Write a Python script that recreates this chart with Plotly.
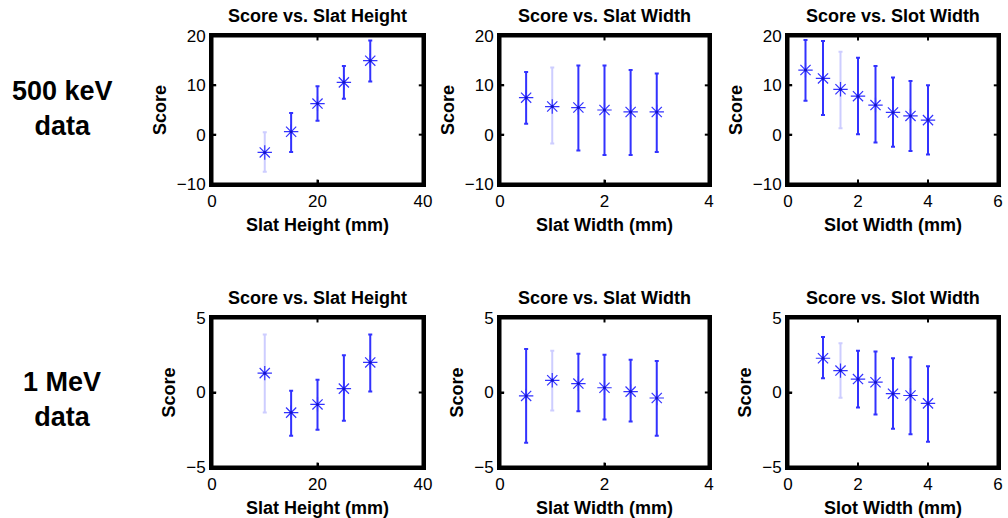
import plotly.graph_objects as go

# ---- data ----
row_labels = ["500 keV<br>data", "1 MeV<br>data"]
titles = ["Score vs. Slat Height", "Score vs. Slat Width", "Score vs. Slot Width"]
x_titles = ["Slat Height (mm)", "Slat Width (mm)", "Slot Width (mm)"]

# 500 keV
kev_height_x = [10, 15, 20, 25, 30]
kev_height_y = [-3.6, 0.6, 6.3, 10.6, 15.0]
kev_height_hi = [0.5, 4.4, 9.8, 13.9, 19.1]
kev_height_lo = [-7.5, -3.5, 2.8, 7.3, 10.8]

kev_slatw_x = [0.5, 1.0, 1.5, 2.0, 2.5, 3.0]
kev_slatw_y = [7.5, 5.7, 5.5, 5.0, 4.6, 4.6]
kev_slatw_hi = [12.7, 13.6, 14.0, 14.0, 13.1, 12.4]
kev_slatw_lo = [2.2, -1.8, -3.2, -4.1, -4.1, -3.5]

kev_slotw_x = [0.5, 1.0, 1.5, 2.0, 2.5, 3.0, 3.5, 4.0]
kev_slotw_y = [13.1, 11.4, 9.2, 7.8, 6.0, 4.5, 3.8, 2.95]
kev_slotw_hi = [19.2, 19.0, 16.8, 15.6, 13.9, 11.6, 10.9, 10.0]
kev_slotw_lo = [6.9, 4.0, 1.3, 0.1, -1.6, -2.45, -3.3, -4.0]

# 1 MeV
mev_height_x = [10, 15, 20, 25, 30]
mev_height_y = [1.3, -1.35, -0.8, 0.26, 2.02]
mev_height_hi = [3.9, 0.12, 0.86, 2.5, 3.9]
mev_height_lo = [-1.35, -2.9, -2.5, -1.9, 0.06]

mev_slatw_x = [0.5, 1.0, 1.5, 2.0, 2.5, 3.0]
mev_slatw_y = [-0.23, 0.82, 0.6, 0.32, 0.06, -0.37]
mev_slatw_hi = [2.92, 2.8, 2.6, 2.54, 2.2, 2.11]
mev_slatw_lo = [-3.37, -1.2, -1.26, -1.82, -1.94, -2.9]

mev_slotw_x = [1.0, 1.5, 2.0, 2.5, 3.0, 3.5, 4.0]
mev_slotw_y = [2.3, 1.47, 0.9, 0.69, -0.08, -0.2, -0.73]
mev_slotw_hi = [3.72, 3.3, 2.8, 2.75, 2.3, 2.37, 1.76]
mev_slotw_lo = [0.96, -0.35, -1.0, -1.47, -2.44, -2.8, -3.3]

x_ranges = [[0, 40], [0, 4], [0, 6]]
x_ticks = [[0, 20, 40], [0, 2, 4], [0, 2, 4, 6]]
y_ranges = [[-10, 20], [-5, 5]]
y_ticks = [[-10, 0, 10, 20], [-5, 0, 5]]

panels = [
    [(kev_height_x, kev_height_y, kev_height_hi, kev_height_lo, 0),
     (kev_slatw_x, kev_slatw_y, kev_slatw_hi, kev_slatw_lo, 1),
     (kev_slotw_x, kev_slotw_y, kev_slotw_hi, kev_slotw_lo, 2)],
    [(mev_height_x, mev_height_y, mev_height_hi, mev_height_lo, 0),
     (mev_slatw_x, mev_slatw_y, mev_slatw_hi, mev_slatw_lo, 1),
     (mev_slotw_x, mev_slotw_y, mev_slotw_hi, mev_slotw_lo, 1)],
]

# ---- style ----
W, H = 1008, 518
FONT = "Liberation Sans, Arial, sans-serif"
BLUE = "rgb(50,50,255)"
FADED = "rgb(205,205,255)"
x_dom_px = [(212, 423), (500, 709), (788, 998)]
y_dom_px = [(36, 184), (318, 467)]

fig = go.Figure()
layout_axes = {}

for r in range(2):
    for c in range(3):
        n = r * 3 + c + 1
        sfx = "" if n == 1 else str(n)
        xs, ys, hi, lo, faded_idx = panels[r][c]
        for i in range(len(xs)):
            col = FADED if i == faded_idx else BLUE
            fig.add_trace(go.Scatter(
                x=[xs[i]], y=[ys[i]], mode="markers",
                xaxis="x" + sfx, yaxis="y" + sfx,
                marker=dict(symbol="asterisk-open", size=12, color=BLUE,
                            line=dict(color=BLUE, width=1.2)),
                error_y=dict(type="data", symmetric=False,
                             array=[hi[i] - ys[i]], arrayminus=[ys[i] - lo[i]],
                             color=col, thickness=2, width=2),
                showlegend=False, hoverinfo="x+y"))
            fig.add_trace(go.Scatter(
                x=[xs[i]], y=[ys[i]], mode="markers",
                xaxis="x" + sfx, yaxis="y" + sfx,
                marker=dict(symbol="circle", size=3, color="rgb(20,20,200)"),
                showlegend=False, hoverinfo="skip"))

        xd = x_dom_px[c]
        yd = y_dom_px[r]
        common = dict(showline=True, linecolor="black", linewidth=3,
                      mirror=True, ticks="inside", ticklen=4,
                      tickwidth=2, tickcolor="black",
                      showgrid=False, zeroline=False,
                      tickprefix="<b>", ticksuffix="</b>",
                      tickfont=dict(family=FONT, size=17, color="black"))
        layout_axes["xaxis" + sfx] = dict(
            domain=[xd[0] / W, xd[1] / W], range=x_ranges[c], tickvals=x_ticks[c],
            anchor="y" + sfx,
            title=dict(text="<b>%s</b>" % x_titles[c],
                       font=dict(family=FONT, size=18, color="black"), standoff=8),
            **common)
        layout_axes["yaxis" + sfx] = dict(
            domain=[1 - yd[1] / H, 1 - yd[0] / H], range=y_ranges[r], tickvals=y_ticks[r],
            anchor="x" + sfx,
            title=dict(text="<b>Score</b>",
                       font=dict(family=FONT, size=18, color="black"), standoff=6),
            **common)
        # frame drawn as a shape on the axis domain
        fig.add_shape(type="rect", xref="x%s domain" % sfx, yref="y%s domain" % sfx,
                      x0=0, x1=1, y0=0, y1=1, line=dict(color="black", width=3),
                      layer="above")
        # inside tick marks on all four sides, at the tick values
        for tv in x_ticks[c]:
            for y0, y1 in ((0, 0.03), (0.97, 1)):
                fig.add_shape(type="line", xref="x" + sfx, yref="y%s domain" % sfx,
                              x0=tv, x1=tv, y0=y0, y1=y1,
                              line=dict(color="black", width=2))
        for tv in y_ticks[r]:
            for x0, x1 in ((0, 0.02), (0.98, 1)):
                fig.add_shape(type="line", xref="x%s domain" % sfx, yref="y" + sfx,
                              x0=x0, x1=x1, y0=tv, y1=tv,
                              line=dict(color="black", width=2))
        fig.add_annotation(text="<b>%s</b>" % titles[c], xref="paper", yref="paper",
                           x=(xd[0] + xd[1]) / 2 / W, y=1 - (yd[0] - 20) / H,
                           showarrow=False, xanchor="center", yanchor="middle",
                           font=dict(family=FONT, size=18, color="black"))

for r in range(2):
    fig.add_annotation(text="<b>%s</b>" % row_labels[r], xref="paper", yref="paper",
                       x=62 / W, y=1 - (108 if r == 0 else 399) / H,
                       showarrow=False, xanchor="center", yanchor="middle",
                       align="center",
                       font=dict(family=FONT, size=27, color="black"))

fig.update_layout(width=W, height=H, margin=dict(l=0, r=0, t=0, b=0, autoexpand=False),
                  paper_bgcolor="white", plot_bgcolor="white",
                  font=dict(family=FONT, color="black"), **layout_axes)

fig.write_html("out.html")
